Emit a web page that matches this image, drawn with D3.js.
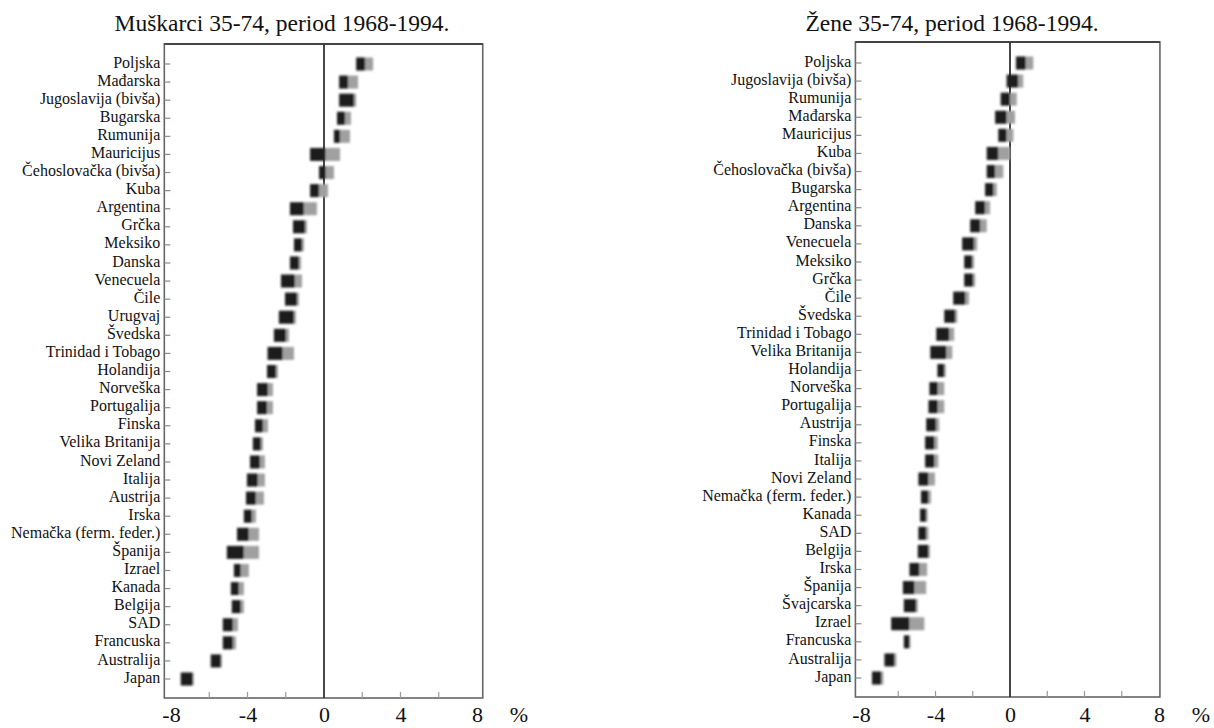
<!DOCTYPE html>
<html>
<head>
<meta charset="utf-8">
<script src="https://cdn.jsdelivr.net/npm/d3@7"></script>
<style>
  body { margin: 0; background: #fff; }
  svg text { font-family: "Liberation Serif", "Times New Roman", serif; fill: #111; }
</style>
</head>
<body>
<svg id="chart" width="1214" height="728"></svg>
<script>
// men 35-74, yearly change in %, 1968-1994
var menCountries = ["Poljska", "Mađarska", "Jugoslavija (bivša)", "Bugarska", "Rumunija", "Mauricijus",
  "Čehoslovačka (bivša)", "Kuba", "Argentina", "Grčka", "Meksiko", "Danska", "Venecuela", "Čile",
  "Urugvaj", "Švedska", "Trinidad i Tobago", "Holandija", "Norveška", "Portugalija", "Finska",
  "Velika Britanija", "Novi Zeland", "Italija", "Austrija", "Irska", "Nemačka (ferm. feder.)",
  "Španija", "Izrael", "Kanada", "Belgija", "SAD", "Francuska", "Australija", "Japan"];
var menLo  = [1.68, 0.79, 0.79, 0.68, 0.52, -0.73, -0.26, -0.73, -1.78, -1.62, -1.57, -1.78, -2.25, -2.04,
  -2.36, -2.62, -2.95, -2.98, -3.50, -3.50, -3.61, -3.72, -3.87, -4.03, -4.08, -4.19, -4.55,
  -5.08, -4.71, -4.87, -4.82, -5.29, -5.29, -5.92, -7.49];
var menMid = [2.15, 1.26, 1.57, 1.10, 0.84, 0.08, 0.09, -0.26, -1.05, -0.99, -1.15, -1.31, -1.52, -1.41,
  -1.57, -1.99, -2.16, -2.51, -2.93, -2.98, -3.19, -3.30, -3.35, -3.46, -3.56, -3.77, -3.93,
  -4.19, -4.35, -4.45, -4.35, -4.76, -4.76, -5.39, -6.86];
var menHi  = [2.57, 1.78, 1.68, 1.41, 1.36, 0.84, 0.52, 0.21, -0.37, -0.89, -1.05, -1.20, -1.15, -1.31,
  -1.47, -1.83, -1.57, -2.41, -2.67, -2.67, -2.93, -3.19, -3.09, -3.09, -3.14, -3.56, -3.40,
  -3.40, -3.93, -4.19, -4.19, -4.50, -4.60, -5.34, -6.81];

// women 35-74
var womenCountries = ["Poljska", "Jugoslavija (bivša)", "Rumunija", "Mađarska", "Mauricijus", "Kuba",
  "Čehoslovačka (bivša)", "Bugarska", "Argentina", "Danska", "Venecuela", "Meksiko", "Grčka", "Čile",
  "Švedska", "Trinidad i Tobago", "Velika Britanija", "Holandija", "Norveška", "Portugalija", "Austrija",
  "Finska", "Italija", "Novi Zeland", "Nemačka (ferm. feder.)", "Kanada", "SAD", "Belgija", "Irska",
  "Španija", "Švajcarska", "Izrael", "Francuska", "Australija", "Japan"];
var womenLo  = [0.32, -0.18, -0.50, -0.80, -0.63, -1.25, -1.25, -1.34, -1.87, -2.14, -2.57, -2.46, -2.46, -3.05,
  -3.53, -3.96, -4.28, -3.90, -4.33, -4.38, -4.50, -4.56, -4.56, -4.92, -4.78, -4.83, -4.92, -4.95, -5.40,
  -5.75, -5.70, -6.38, -5.70, -6.74, -7.41];
var womenMid = [0.85, 0.44, 0.00, -0.18, -0.18, -0.63, -0.80, -0.89, -1.34, -1.60, -1.93, -2.03, -1.98, -2.40,
  -2.94, -3.26, -3.42, -3.53, -3.88, -3.88, -3.97, -4.06, -4.06, -4.38, -4.38, -4.50, -4.50, -4.38, -4.87,
  -5.13, -5.04, -5.40, -5.40, -6.20, -6.91];
var womenHi  = [1.25, 0.71, 0.36, 0.27, 0.18, 0.00, -0.36, -0.71, -1.07, -1.25, -1.76, -1.93, -1.87, -2.20,
  -2.83, -3.00, -3.10, -3.45, -3.53, -3.53, -3.80, -3.88, -3.85, -4.03, -4.24, -4.42, -4.38, -4.30, -4.45,
  -4.50, -4.95, -4.60, -5.35, -6.10, -6.80];

var tickLabels = [-8, -4, 0, 4, 8];
var minorTicks = [-6, -4, -2, 2, 4, 6];

var svg = d3.select("#chart");

var defs = svg.append("defs");
defs.append("filter").attr("id", "soft")
  .attr("x", "-20%").attr("y", "-20%").attr("width", "140%").attr("height", "140%")
  .append("feGaussianBlur").attr("stdDeviation", 0.9);

drawPanel({
  title: "Muškarci 35-74, period 1968-1994.",
  titleX: 282,
  countries: menCountries, lo: menLo, mid: menMid, hi: menHi,
  domain: [-8.35, 8.3], ticks: [-8, 8], tickPx: [171, 477],
  top: 44, bottom: 698, firstRow: 62, lastRow: 677
});

drawPanel({
  title: "Žene 35-74, period 1968-1994.",
  titleX: 952,
  countries: womenCountries, lo: womenLo, mid: womenMid, hi: womenHi,
  domain: [-8.3, 8.05], ticks: [-8, 8], tickPx: [861, 1159],
  top: 42, bottom: 697, firstRow: 61, lastRow: 676
});

function drawPanel(p) {
  // x scale from the tick label positions
  var x = d3.scaleLinear().domain(p.ticks).range(p.tickPx);
  var left = x(p.domain[0]);
  var right = x(p.domain[1]);

  var y = d3.scalePoint().domain(p.countries).range([p.firstRow, p.lastRow]);

  var g = svg.append("g");

  // title
  g.append("text")
    .attr("x", p.titleX)
    .attr("y", 31)
    .attr("text-anchor", "middle")
    .style("font-size", "23.5px")
    .text(p.title);

  // frame
  g.append("rect")
    .attr("x", left).attr("y", p.top)
    .attr("width", right - left).attr("height", p.bottom - p.top)
    .style("fill", "none")
    .style("stroke", "#666")
    .style("stroke-width", 1.6);
  g.append("line")
    .attr("x1", left).attr("x2", right)
    .attr("y1", p.top).attr("y2", p.top)
    .style("stroke", "#444").style("stroke-width", 2);

  // zero line
  g.append("line")
    .attr("x1", x(0)).attr("x2", x(0))
    .attr("y1", p.top).attr("y2", p.bottom)
    .style("stroke", "#333").style("stroke-width", 1.8);

  // row ticks on the left side of the frame
  g.selectAll(".rowtick").data(p.countries).enter().append("line")
    .attr("class", "rowtick")
    .attr("x1", left).attr("x2", left + 6)
    .attr("y1", function(d) { return y(d) + 2; })
    .attr("y2", function(d) { return y(d) + 2; })
    .style("stroke", "#888").style("stroke-width", 1.2);

  // faint ticks on the bottom edge
  g.selectAll(".minor").data(minorTicks).enter().append("line")
    .attr("class", "minor")
    .attr("x1", function(d) { return x(d); })
    .attr("x2", function(d) { return x(d); })
    .attr("y1", p.bottom).attr("y2", p.bottom - 6)
    .style("stroke", "#999").style("stroke-width", 1.2);

  // country labels
  g.selectAll(".label").data(p.countries).enter().append("text")
    .attr("class", "label")
    .attr("x", left - 4)
    .attr("y", function(d) { return y(d); })
    .attr("dy", "0.35em")
    .attr("text-anchor", "end")
    .style("font-size", "16px")
    .text(function(d) { return d; });

  // marks: dark part lo..mid, grey part mid..hi
  var rows = p.countries.map(function(c, i) {
    return {name: c, lo: p.lo[i], mid: p.mid[i], hi: p.hi[i]};
  });
  var marks = g.append("g").attr("filter", "url(#soft)");
  var h = 13;

  marks.selectAll(".grey").data(rows).enter().append("rect")
    .attr("class", "grey")
    .attr("x", function(d) { return x(d.mid); })
    .attr("y", function(d) { return y(d.name) + 2 - h / 2; })
    .attr("width", function(d) { return Math.max(0, x(d.hi) - x(d.mid)); })
    .attr("height", h)
    .style("fill", "#a0a0a0");

  marks.selectAll(".dark").data(rows).enter().append("rect")
    .attr("class", "dark")
    .attr("x", function(d) { return x(d.lo); })
    .attr("y", function(d) { return y(d.name) + 2 - h / 2; })
    .attr("width", function(d) { return x(d.mid) - x(d.lo); })
    .attr("height", h)
    .style("fill", "#1c1c1c");

  // x axis labels
  var axis = d3.axisBottom(x).tickValues(tickLabels).tickSize(0).tickPadding(0)
    .tickFormat(function(d) { return d; });
  var ax = g.append("g")
    .attr("transform", "translate(0," + 722 + ")")
    .call(axis);
  ax.select(".domain").remove();
  ax.selectAll("text")
    .style("font-family", "Liberation Serif, serif")
    .style("font-size", "22px")
    .attr("dy", "0")
    .attr("fill", "#111");

  g.append("text")
    .attr("x", x(8) + 42)
    .attr("y", 722)
    .attr("text-anchor", "middle")
    .style("font-size", "22px")
    .text("%");
}
</script>
</body>
</html>
